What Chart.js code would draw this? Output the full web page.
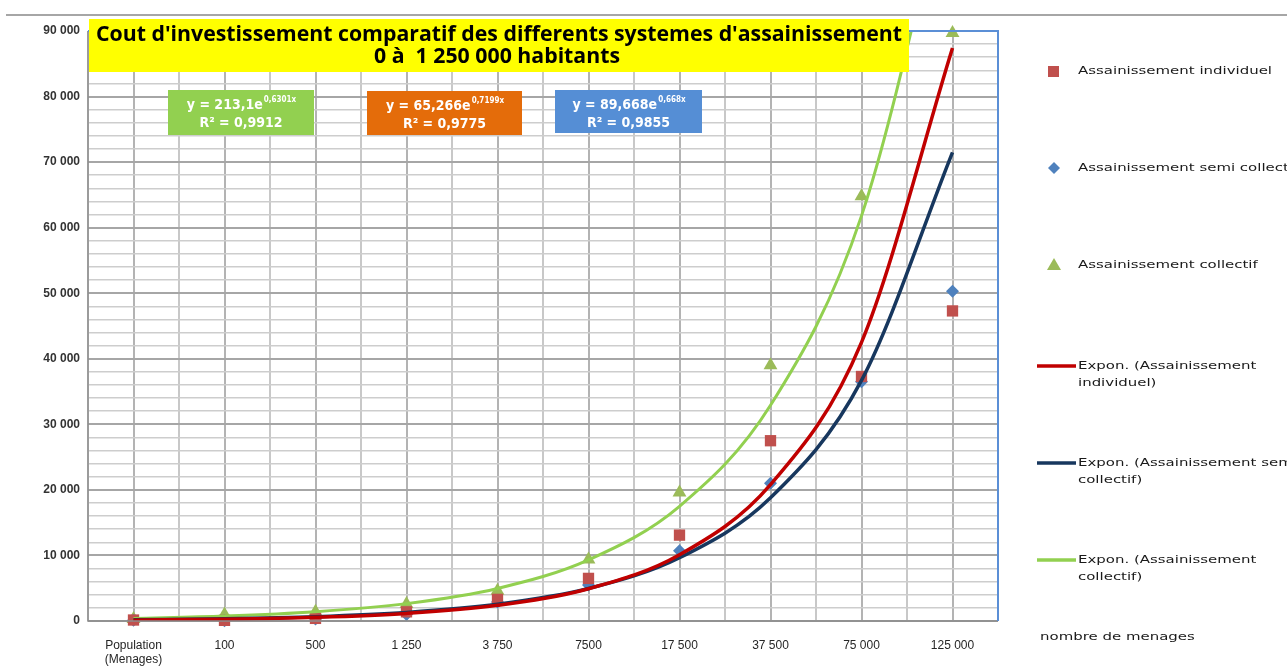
<!DOCTYPE html>
<html><head><meta charset="utf-8">
<script src="https://cdn.jsdelivr.net/npm/chart.js@4.4.0/dist/chart.umd.min.js"></script>
<style>html,body{margin:0;padding:0;background:#fff;overflow:hidden}#wrap{position:relative;width:1287px;height:669px}</style>
</head><body><div id="wrap"><canvas id="c" width="1287" height="669"></canvas></div>
<script>
// ---- data ----
const categories = [['Population','(Menages)'], '100', '500', '1 250', '3 750', '7500', '17 500', '37 500', '75 000', '125 000'];
const individuel    = [150, 100, 400, 1400, 3300, 6500, 13100, 27500, 37300, 47300];
const semiCollectif = [100, 50, 300, 1000, 2900, 5500, 10700, 21000, 36500, 50300];
const collectif     = [300, 1000, 1400, 2600, 4600, 9400, 19600, 39000, 64800, 89700];
// trend lines (values at each category)
const trendIndividuel    = [130, 275, 565, 1160, 2390, 4920, 10100, 20800, 42500, 87400];
const trendSemiCollectif = [175, 342, 666, 1300, 2540, 4950, 9650, 18800, 36700, 71500];
const trendCollectif     = [400, 750, 1410, 2650, 4970, 9330, 17500, 32900, 61800, 116000];
const yTickLabels = ['0','10 000','20 000','30 000','40 000','50 000','60 000','70 000','80 000','90 000'];
const legendLabels = ['Assainissement individuel','Assainissement semi collectif','Assainissement collectif',
  ['Expon. (Assainissement','individuel)'],['Expon. (Assainissement semi','collectif)'],['Expon. (Assainissement','collectif)']];
const titleLines = ["Cout d'investissement comparatif des differents systemes d'assainissement", "0 à  1 250 000 habitants"];
const equations = [
  {base:'y = 213,1e', sup:'0,6301x', r2:'R² = 0,9912', color:'#92d050'},
  {base:'y = 65,266e', sup:'0,7199x', r2:'R² = 0,9775', color:'#e46c0a'},
  {base:'y = 89,668e', sup:'0,668x', r2:'R² = 0,9855', color:'#558ed5'}
];
const xAxisTitle = 'nombre de menages';

const pts = arr => arr.map((v,i)=>({x:i+1, y:v}));

function txt(ctx, s, x, y, font, color, align, sx){
  ctx.save(); ctx.font=font; ctx.fillStyle=color; ctx.textBaseline='middle'; ctx.textAlign=align||'left';
  ctx.translate(x,y); ctx.scale(sx||1,1); ctx.fillText(s,0,0); ctx.restore();
}

const deco = {
  id:'deco',
  afterDraw(chart){
    const ctx = chart.ctx, a = chart.chartArea;
    ctx.save();
    ctx.strokeStyle='#a6a6a6'; ctx.lineWidth=2;
    ctx.beginPath(); ctx.moveTo(6,15); ctx.lineTo(1287,15); ctx.stroke();
    ctx.strokeStyle='#8c8c8c'; ctx.lineWidth=1.5;
    ctx.beginPath(); ctx.moveTo(a.left,a.top); ctx.lineTo(a.left,a.bottom); ctx.lineTo(a.right,a.bottom); ctx.stroke();
    ctx.strokeStyle='#5b8fd6'; ctx.lineWidth=2;
    ctx.beginPath(); ctx.moveTo(a.left,a.top); ctx.lineTo(a.right,a.top); ctx.lineTo(a.right,a.bottom); ctx.stroke();
    // title box
    ctx.fillStyle='#ffff00'; ctx.fillRect(89,19,820,53);
    const tf="bold 21px 'Open Sans', sans-serif";
    ctx.font=tf; const tw = ctx.measureText(titleLines[0]).width; const tsx = 806/tw;
    txt(ctx,titleLines[0],499,35,tf,'#000','center',tsx);
    txt(ctx,titleLines[1],497,57,tf,'#000','center',tsx);
    // equation boxes
    const boxes=[[168,90,146,45],[367,91,155,44],[555,90,147,43]];
    const ef="bold 14px 'DejaVu Sans Condensed', sans-serif", sf="bold 8px 'DejaVu Sans Condensed', sans-serif";
    equations.forEach((e,i)=>{
      const [bx,by,bw,bh]=boxes[i];
      ctx.fillStyle=e.color; ctx.fillRect(bx,by,bw,bh);
      ctx.font=ef; const w1=ctx.measureText(e.base).width;
      ctx.font=sf; const w2=ctx.measureText(e.sup).width;
      const cx=bx+bw/2, x0=cx-(w1+w2)/2;
      txt(ctx,e.base,x0,by+15,ef,'#fff','left');
      txt(ctx,e.sup,x0+w1+1,by+10,sf,'#fff','left');
      txt(ctx,e.r2,cx,by+33,ef,'#fff','center');
    });
    // legend
    const lf="11px 'DejaVu Sans', sans-serif";
    ctx.font=lf; const lsx = 194/ctx.measureText(legendLabels[0]).width;
    const ly=[71,168,265,366,463,560];
    ctx.fillStyle='#c0504d'; ctx.fillRect(1048,66,11,11);
    ctx.fillStyle='#4f81bd'; ctx.beginPath(); ctx.moveTo(1054,162); ctx.lineTo(1060,168); ctx.lineTo(1054,174); ctx.lineTo(1048,168); ctx.closePath(); ctx.fill();
    ctx.fillStyle='#9bbb59'; ctx.beginPath(); ctx.moveTo(1054,258); ctx.lineTo(1061,270); ctx.lineTo(1047,270); ctx.closePath(); ctx.fill();
    const lc=['#c00000','#17375e','#92d050'];
    for(let k=0;k<3;k++){ctx.strokeStyle=lc[k]; ctx.lineWidth=3.5; ctx.beginPath(); ctx.moveTo(1037,ly[3+k]); ctx.lineTo(1076,ly[3+k]); ctx.stroke();}
    legendLabels.forEach((l,i)=>{
      if(Array.isArray(l)){ l.forEach((s,j)=>txt(ctx,s,1078,ly[i]+j*17,lf,'#1a1a1a','left',lsx)); }
      else txt(ctx,l,1078,ly[i],lf,'#1a1a1a','left',lsx);
    });
    txt(ctx,xAxisTitle,1040,637,lf,'#1a1a1a','left',lsx);
    ctx.restore();
  }
};

new Chart(document.getElementById('c'), {
  type:'scatter',
  data:{datasets:[
    {label:'Expon. (Assainissement individuel)', data:pts(trendIndividuel), showLine:true, borderColor:'#c00000', borderWidth:3.5, pointRadius:0, cubicInterpolationMode:'monotone', clip:0, order:0},
    {label:'Expon. (Assainissement semi collectif)', data:pts(trendSemiCollectif), showLine:true, borderColor:'#17375e', borderWidth:3.5, pointRadius:0, cubicInterpolationMode:'monotone', clip:0, order:0},
    {label:'Expon. (Assainissement collectif)', data:pts(trendCollectif), showLine:true, borderColor:'#92d050', borderWidth:3, pointRadius:0, cubicInterpolationMode:'monotone', clip:0, order:0},
    {label:'Assainissement individuel', data:pts(individuel), pointStyle:'rect', pointRadius:8, backgroundColor:'#c0504d', borderColor:'#c0504d', borderWidth:0, clip:false, order:1},
    {label:'Assainissement semi collectif', data:pts(semiCollectif), pointStyle:'rectRot', pointRadius:6.5, backgroundColor:'#4f81bd', borderColor:'#4f81bd', borderWidth:0, clip:false, order:1},
    {label:'Assainissement collectif', data:pts(collectif), pointStyle:'triangle', pointRadius:8, backgroundColor:'#9bbb59', borderColor:'#9bbb59', borderWidth:0, clip:false, order:1}
  ]},
  options:{
    responsive:false, animation:false, events:[],
    layout:{padding:{top:31,right:289,left:0,bottom:0}},
    plugins:{legend:{display:false},tooltip:{enabled:false}},
    scales:{
      x:{type:'linear',min:0.5,max:10.5,
        afterFit:s=>{s.height=48;},
        border:{display:false},
        grid:{drawTicks:false,color:c=>Number.isInteger(c.tick&&c.tick.value)?'#b3b3b3':'#c8c8c8',lineWidth:2},
        ticks:{stepSize:0.5,autoSkip:false,maxRotation:0,padding:17,color:'#262626',font:{size:12},
          callback:v=>Number.isInteger(v)?categories[v-1]:''}},
      y:{min:0,max:90000,
        afterFit:s=>{s.width=88;},
        border:{display:false},
        grid:{drawTicks:false,color:c=>(c.tick&&c.tick.value%10000===0)?'#a6a6a6':'#cdcdcd',lineWidth:c=>(c.tick&&c.tick.value%10000===0)?2:1.5},
        ticks:{stepSize:2000,autoSkip:false,padding:8,color:'#333',font:{size:12,weight:'bold'},
          callback:v=>v%10000===0?yTickLabels[v/10000]:''}}
    }
  },
  plugins:[deco]
});
</script></body></html>
